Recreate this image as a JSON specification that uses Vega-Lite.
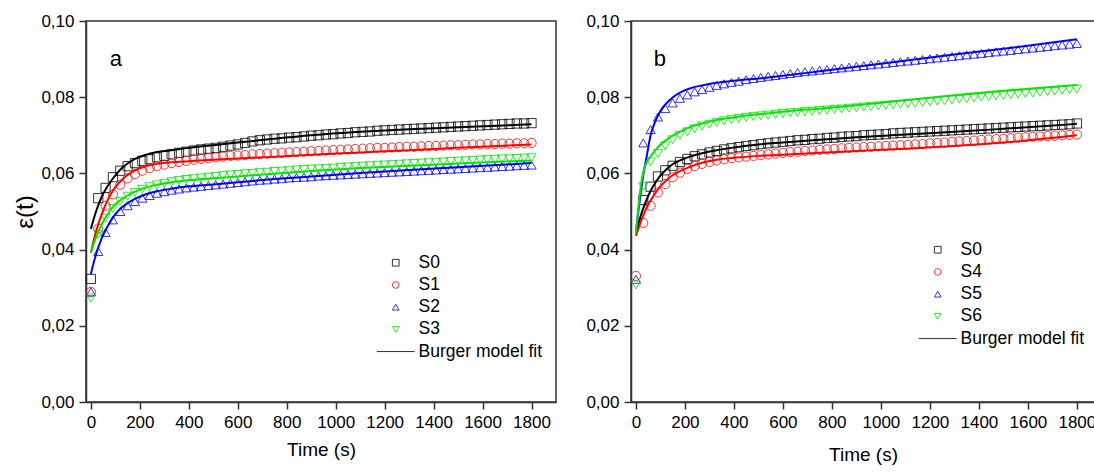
{
"$schema": "https://vega.github.io/schema/vega-lite/v6.json",
"background": "white",
"padding": {"left": 13, "top": 11, "right": 0, "bottom": 0},
"spacing": 28,
"config": {
  "font": "Liberation Sans",
  "view": {"stroke": "#333", "strokeWidth": 1.5},
  "axis": {"grid": false, "domainColor": "#333", "domainWidth": 1.5, "tickColor": "#333", "tickWidth": 1.5, "labelFontSize": 17, "labelColor": "#000", "labelFont": "Liberation Sans", "titleFont": "Liberation Sans", "titleFontSize": 19, "titleFontWeight": "normal", "titleColor": "#000", "labelOverlap": false, "labelFlush": false, "labelBound": false, "labelPadding": 5}
},
"datasets": {
"a_pts": [
{"s":"S0","t":0,"e":0.0323},{"s":"S0","t":30,"e":0.0535},{"s":"S0","t":60,"e":0.0562},{"s":"S0","t":90,"e":0.0590},{"s":"S0","t":120,"e":0.0607},{"s":"S0","t":150,"e":0.0619},{"s":"S0","t":180,"e":0.0627},{"s":"S0","t":210,"e":0.0633},{"s":"S0","t":240,"e":0.0637},{"s":"S0","t":270,"e":0.0642},{"s":"S0","t":300,"e":0.0646},{"s":"S0","t":330,"e":0.0650},{"s":"S0","t":360,"e":0.0654},{"s":"S0","t":390,"e":0.0657},{"s":"S0","t":420,"e":0.0660},{"s":"S0","t":450,"e":0.0663},{"s":"S0","t":480,"e":0.0665},{"s":"S0","t":510,"e":0.0667},{"s":"S0","t":540,"e":0.0670},{"s":"S0","t":570,"e":0.0673},{"s":"S0","t":600,"e":0.0676},{"s":"S0","t":630,"e":0.0680},{"s":"S0","t":660,"e":0.0684},{"s":"S0","t":690,"e":0.0687},{"s":"S0","t":720,"e":0.0689},{"s":"S0","t":750,"e":0.0691},{"s":"S0","t":780,"e":0.0692},{"s":"S0","t":810,"e":0.0694},{"s":"S0","t":840,"e":0.0695},{"s":"S0","t":870,"e":0.0697},{"s":"S0","t":900,"e":0.0699},{"s":"S0","t":930,"e":0.0700},{"s":"S0","t":960,"e":0.0702},{"s":"S0","t":990,"e":0.0703},{"s":"S0","t":1020,"e":0.0705},{"s":"S0","t":1050,"e":0.0706},{"s":"S0","t":1080,"e":0.0708},{"s":"S0","t":1110,"e":0.0709},{"s":"S0","t":1140,"e":0.0710},{"s":"S0","t":1170,"e":0.0712},{"s":"S0","t":1200,"e":0.0713},{"s":"S0","t":1230,"e":0.0714},{"s":"S0","t":1260,"e":0.0715},{"s":"S0","t":1290,"e":0.0716},{"s":"S0","t":1320,"e":0.0717},{"s":"S0","t":1350,"e":0.0718},{"s":"S0","t":1380,"e":0.0719},{"s":"S0","t":1410,"e":0.0720},{"s":"S0","t":1440,"e":0.0721},{"s":"S0","t":1470,"e":0.0722},{"s":"S0","t":1500,"e":0.0723},{"s":"S0","t":1530,"e":0.0724},{"s":"S0","t":1560,"e":0.0725},{"s":"S0","t":1590,"e":0.0726},{"s":"S0","t":1620,"e":0.0727},{"s":"S0","t":1650,"e":0.0728},{"s":"S0","t":1680,"e":0.0729},{"s":"S0","t":1710,"e":0.0730},{"s":"S0","t":1740,"e":0.0731},{"s":"S0","t":1770,"e":0.0731},{"s":"S0","t":1800,"e":0.0732},
{"s":"S1","t":0,"e":0.0289},{"s":"S1","t":30,"e":0.0455},{"s":"S1","t":60,"e":0.0515},{"s":"S1","t":90,"e":0.0545},{"s":"S1","t":120,"e":0.0570},{"s":"S1","t":150,"e":0.0587},{"s":"S1","t":180,"e":0.0598},{"s":"S1","t":210,"e":0.0607},{"s":"S1","t":240,"e":0.0614},{"s":"S1","t":270,"e":0.0619},{"s":"S1","t":300,"e":0.0623},{"s":"S1","t":330,"e":0.0627},{"s":"S1","t":360,"e":0.0630},{"s":"S1","t":390,"e":0.0633},{"s":"S1","t":420,"e":0.0636},{"s":"S1","t":450,"e":0.0638},{"s":"S1","t":480,"e":0.0640},{"s":"S1","t":510,"e":0.0642},{"s":"S1","t":540,"e":0.0644},{"s":"S1","t":570,"e":0.0646},{"s":"S1","t":600,"e":0.0647},{"s":"S1","t":630,"e":0.0648},{"s":"S1","t":660,"e":0.0650},{"s":"S1","t":690,"e":0.0651},{"s":"S1","t":720,"e":0.0652},{"s":"S1","t":750,"e":0.0653},{"s":"S1","t":780,"e":0.0654},{"s":"S1","t":810,"e":0.0655},{"s":"S1","t":840,"e":0.0656},{"s":"S1","t":870,"e":0.0657},{"s":"S1","t":900,"e":0.0658},{"s":"S1","t":930,"e":0.0659},{"s":"S1","t":960,"e":0.0660},{"s":"S1","t":990,"e":0.0661},{"s":"S1","t":1020,"e":0.0662},{"s":"S1","t":1050,"e":0.0663},{"s":"S1","t":1080,"e":0.0664},{"s":"S1","t":1110,"e":0.0665},{"s":"S1","t":1140,"e":0.0666},{"s":"S1","t":1170,"e":0.0667},{"s":"S1","t":1200,"e":0.0667},{"s":"S1","t":1230,"e":0.0668},{"s":"S1","t":1260,"e":0.0669},{"s":"S1","t":1290,"e":0.0670},{"s":"S1","t":1320,"e":0.0670},{"s":"S1","t":1350,"e":0.0671},{"s":"S1","t":1380,"e":0.0672},{"s":"S1","t":1410,"e":0.0672},{"s":"S1","t":1440,"e":0.0673},{"s":"S1","t":1470,"e":0.0674},{"s":"S1","t":1500,"e":0.0674},{"s":"S1","t":1530,"e":0.0675},{"s":"S1","t":1560,"e":0.0676},{"s":"S1","t":1590,"e":0.0676},{"s":"S1","t":1620,"e":0.0677},{"s":"S1","t":1650,"e":0.0677},{"s":"S1","t":1680,"e":0.0678},{"s":"S1","t":1710,"e":0.0678},{"s":"S1","t":1740,"e":0.0679},{"s":"S1","t":1770,"e":0.0679},{"s":"S1","t":1800,"e":0.0680},
{"s":"S2","t":0,"e":0.0289},{"s":"S2","t":30,"e":0.0395},{"s":"S2","t":60,"e":0.0445},{"s":"S2","t":90,"e":0.0478},{"s":"S2","t":120,"e":0.0500},{"s":"S2","t":150,"e":0.0515},{"s":"S2","t":180,"e":0.0526},{"s":"S2","t":210,"e":0.0535},{"s":"S2","t":240,"e":0.0542},{"s":"S2","t":270,"e":0.0548},{"s":"S2","t":300,"e":0.0552},{"s":"S2","t":330,"e":0.0556},{"s":"S2","t":360,"e":0.0559},{"s":"S2","t":390,"e":0.0562},{"s":"S2","t":420,"e":0.0564},{"s":"S2","t":450,"e":0.0566},{"s":"S2","t":480,"e":0.0568},{"s":"S2","t":510,"e":0.0570},{"s":"S2","t":540,"e":0.0572},{"s":"S2","t":570,"e":0.0574},{"s":"S2","t":600,"e":0.0576},{"s":"S2","t":630,"e":0.0578},{"s":"S2","t":660,"e":0.0580},{"s":"S2","t":690,"e":0.0582},{"s":"S2","t":720,"e":0.0583},{"s":"S2","t":750,"e":0.0585},{"s":"S2","t":780,"e":0.0586},{"s":"S2","t":810,"e":0.0588},{"s":"S2","t":840,"e":0.0589},{"s":"S2","t":870,"e":0.0590},{"s":"S2","t":900,"e":0.0591},{"s":"S2","t":930,"e":0.0593},{"s":"S2","t":960,"e":0.0594},{"s":"S2","t":990,"e":0.0595},{"s":"S2","t":1020,"e":0.0596},{"s":"S2","t":1050,"e":0.0597},{"s":"S2","t":1080,"e":0.0598},{"s":"S2","t":1110,"e":0.0599},{"s":"S2","t":1140,"e":0.0600},{"s":"S2","t":1170,"e":0.0601},{"s":"S2","t":1200,"e":0.0602},{"s":"S2","t":1230,"e":0.0603},{"s":"S2","t":1260,"e":0.0604},{"s":"S2","t":1290,"e":0.0605},{"s":"S2","t":1320,"e":0.0606},{"s":"S2","t":1350,"e":0.0607},{"s":"S2","t":1380,"e":0.0608},{"s":"S2","t":1410,"e":0.0609},{"s":"S2","t":1440,"e":0.0610},{"s":"S2","t":1470,"e":0.0611},{"s":"S2","t":1500,"e":0.0612},{"s":"S2","t":1530,"e":0.0613},{"s":"S2","t":1560,"e":0.0614},{"s":"S2","t":1590,"e":0.0615},{"s":"S2","t":1620,"e":0.0616},{"s":"S2","t":1650,"e":0.0617},{"s":"S2","t":1680,"e":0.0618},{"s":"S2","t":1710,"e":0.0619},{"s":"S2","t":1740,"e":0.0620},{"s":"S2","t":1770,"e":0.0621},{"s":"S2","t":1800,"e":0.0622},
{"s":"S3","t":0,"e":0.0273},{"s":"S3","t":30,"e":0.0440},{"s":"S3","t":60,"e":0.0482},{"s":"S3","t":90,"e":0.0508},{"s":"S3","t":120,"e":0.0526},{"s":"S3","t":150,"e":0.0540},{"s":"S3","t":180,"e":0.0550},{"s":"S3","t":210,"e":0.0558},{"s":"S3","t":240,"e":0.0565},{"s":"S3","t":270,"e":0.0570},{"s":"S3","t":300,"e":0.0574},{"s":"S3","t":330,"e":0.0578},{"s":"S3","t":360,"e":0.0581},{"s":"S3","t":390,"e":0.0584},{"s":"S3","t":420,"e":0.0586},{"s":"S3","t":450,"e":0.0588},{"s":"S3","t":480,"e":0.0590},{"s":"S3","t":510,"e":0.0592},{"s":"S3","t":540,"e":0.0594},{"s":"S3","t":570,"e":0.0596},{"s":"S3","t":600,"e":0.0597},{"s":"S3","t":630,"e":0.0599},{"s":"S3","t":660,"e":0.0600},{"s":"S3","t":690,"e":0.0602},{"s":"S3","t":720,"e":0.0603},{"s":"S3","t":750,"e":0.0605},{"s":"S3","t":780,"e":0.0606},{"s":"S3","t":810,"e":0.0607},{"s":"S3","t":840,"e":0.0609},{"s":"S3","t":870,"e":0.0610},{"s":"S3","t":900,"e":0.0611},{"s":"S3","t":930,"e":0.0612},{"s":"S3","t":960,"e":0.0613},{"s":"S3","t":990,"e":0.0614},{"s":"S3","t":1020,"e":0.0616},{"s":"S3","t":1050,"e":0.0617},{"s":"S3","t":1080,"e":0.0618},{"s":"S3","t":1110,"e":0.0619},{"s":"S3","t":1140,"e":0.0620},{"s":"S3","t":1170,"e":0.0621},{"s":"S3","t":1200,"e":0.0622},{"s":"S3","t":1230,"e":0.0623},{"s":"S3","t":1260,"e":0.0624},{"s":"S3","t":1290,"e":0.0625},{"s":"S3","t":1320,"e":0.0626},{"s":"S3","t":1350,"e":0.0627},{"s":"S3","t":1380,"e":0.0628},{"s":"S3","t":1410,"e":0.0629},{"s":"S3","t":1440,"e":0.0630},{"s":"S3","t":1470,"e":0.0631},{"s":"S3","t":1500,"e":0.0632},{"s":"S3","t":1530,"e":0.0633},{"s":"S3","t":1560,"e":0.0634},{"s":"S3","t":1590,"e":0.0635},{"s":"S3","t":1620,"e":0.0636},{"s":"S3","t":1650,"e":0.0637},{"s":"S3","t":1680,"e":0.0638},{"s":"S3","t":1710,"e":0.0638},{"s":"S3","t":1740,"e":0.0639},{"s":"S3","t":1770,"e":0.0640},{"s":"S3","t":1800,"e":0.0641}
],
"a_fit": [
{"s":"S0","t":0,"e":0.0454},{"s":"S0","t":10,"e":0.0477},{"s":"S0","t":20,"e":0.0498},{"s":"S0","t":30,"e":0.0516},{"s":"S0","t":45,"e":0.0540},{"s":"S0","t":60,"e":0.0558},{"s":"S0","t":80,"e":0.0578},{"s":"S0","t":100,"e":0.0595},{"s":"S0","t":125,"e":0.0613},{"s":"S0","t":150,"e":0.0626},{"s":"S0","t":180,"e":0.0638},{"s":"S0","t":220,"e":0.0648},{"s":"S0","t":270,"e":0.0656},{"s":"S0","t":330,"e":0.0661},{"s":"S0","t":400,"e":0.0667},{"s":"S0","t":500,"e":0.0674},{"s":"S0","t":600,"e":0.0681},{"s":"S0","t":750,"e":0.0691},{"s":"S0","t":900,"e":0.0700},{"s":"S0","t":1100,"e":0.0709},{"s":"S0","t":1300,"e":0.0716},{"s":"S0","t":1500,"e":0.0721},{"s":"S0","t":1800,"e":0.0729},
{"s":"S1","t":0,"e":0.0391},{"s":"S1","t":10,"e":0.0420},{"s":"S1","t":20,"e":0.0445},{"s":"S1","t":30,"e":0.0466},{"s":"S1","t":45,"e":0.0494},{"s":"S1","t":60,"e":0.0518},{"s":"S1","t":80,"e":0.0544},{"s":"S1","t":100,"e":0.0564},{"s":"S1","t":125,"e":0.0582},{"s":"S1","t":150,"e":0.0596},{"s":"S1","t":180,"e":0.0608},{"s":"S1","t":220,"e":0.0618},{"s":"S1","t":270,"e":0.0625},{"s":"S1","t":330,"e":0.0629},{"s":"S1","t":400,"e":0.0632},{"s":"S1","t":500,"e":0.0636},{"s":"S1","t":600,"e":0.0639},{"s":"S1","t":750,"e":0.0644},{"s":"S1","t":900,"e":0.0649},{"s":"S1","t":1100,"e":0.0655},{"s":"S1","t":1300,"e":0.0661},{"s":"S1","t":1500,"e":0.0667},{"s":"S1","t":1800,"e":0.0676},
{"s":"S2","t":0,"e":0.0336},{"s":"S2","t":10,"e":0.0362},{"s":"S2","t":20,"e":0.0385},{"s":"S2","t":30,"e":0.0405},{"s":"S2","t":45,"e":0.0431},{"s":"S2","t":60,"e":0.0451},{"s":"S2","t":80,"e":0.0474},{"s":"S2","t":100,"e":0.0493},{"s":"S2","t":125,"e":0.0510},{"s":"S2","t":150,"e":0.0522},{"s":"S2","t":180,"e":0.0533},{"s":"S2","t":220,"e":0.0544},{"s":"S2","t":270,"e":0.0553},{"s":"S2","t":330,"e":0.0560},{"s":"S2","t":400,"e":0.0566},{"s":"S2","t":500,"e":0.0571},{"s":"S2","t":600,"e":0.0577},{"s":"S2","t":750,"e":0.0585},{"s":"S2","t":900,"e":0.0592},{"s":"S2","t":1100,"e":0.0601},{"s":"S2","t":1300,"e":0.0609},{"s":"S2","t":1500,"e":0.0616},{"s":"S2","t":1800,"e":0.0627},
{"s":"S3","t":0,"e":0.0391},{"s":"S3","t":10,"e":0.0412},{"s":"S3","t":20,"e":0.0430},{"s":"S3","t":30,"e":0.0446},{"s":"S3","t":45,"e":0.0467},{"s":"S3","t":60,"e":0.0484},{"s":"S3","t":80,"e":0.0504},{"s":"S3","t":100,"e":0.0519},{"s":"S3","t":125,"e":0.0532},{"s":"S3","t":150,"e":0.0542},{"s":"S3","t":180,"e":0.0552},{"s":"S3","t":220,"e":0.0562},{"s":"S3","t":270,"e":0.0570},{"s":"S3","t":330,"e":0.0577},{"s":"S3","t":400,"e":0.0582},{"s":"S3","t":500,"e":0.0587},{"s":"S3","t":600,"e":0.0592},{"s":"S3","t":750,"e":0.0599},{"s":"S3","t":900,"e":0.0606},{"s":"S3","t":1100,"e":0.0614},{"s":"S3","t":1300,"e":0.0620},{"s":"S3","t":1500,"e":0.0626},{"s":"S3","t":1800,"e":0.0634}
],
"b_pts": [
{"s":"S0","t":30,"e":0.0530},{"s":"S0","t":60,"e":0.0565},{"s":"S0","t":90,"e":0.0592},{"s":"S0","t":120,"e":0.0608},{"s":"S0","t":150,"e":0.0620},{"s":"S0","t":180,"e":0.0630},{"s":"S0","t":210,"e":0.0638},{"s":"S0","t":240,"e":0.0645},{"s":"S0","t":270,"e":0.0650},{"s":"S0","t":300,"e":0.0655},{"s":"S0","t":330,"e":0.0659},{"s":"S0","t":360,"e":0.0663},{"s":"S0","t":390,"e":0.0666},{"s":"S0","t":420,"e":0.0669},{"s":"S0","t":450,"e":0.0672},{"s":"S0","t":480,"e":0.0674},{"s":"S0","t":510,"e":0.0677},{"s":"S0","t":540,"e":0.0679},{"s":"S0","t":570,"e":0.0681},{"s":"S0","t":600,"e":0.0683},{"s":"S0","t":630,"e":0.0685},{"s":"S0","t":660,"e":0.0687},{"s":"S0","t":690,"e":0.0688},{"s":"S0","t":720,"e":0.0690},{"s":"S0","t":750,"e":0.0691},{"s":"S0","t":780,"e":0.0693},{"s":"S0","t":810,"e":0.0694},{"s":"S0","t":840,"e":0.0696},{"s":"S0","t":870,"e":0.0697},{"s":"S0","t":900,"e":0.0698},{"s":"S0","t":930,"e":0.0700},{"s":"S0","t":960,"e":0.0701},{"s":"S0","t":990,"e":0.0702},{"s":"S0","t":1020,"e":0.0703},{"s":"S0","t":1050,"e":0.0705},{"s":"S0","t":1080,"e":0.0706},{"s":"S0","t":1110,"e":0.0707},{"s":"S0","t":1140,"e":0.0708},{"s":"S0","t":1170,"e":0.0709},{"s":"S0","t":1200,"e":0.0710},{"s":"S0","t":1230,"e":0.0711},{"s":"S0","t":1260,"e":0.0712},{"s":"S0","t":1290,"e":0.0713},{"s":"S0","t":1320,"e":0.0714},{"s":"S0","t":1350,"e":0.0715},{"s":"S0","t":1380,"e":0.0716},{"s":"S0","t":1410,"e":0.0717},{"s":"S0","t":1440,"e":0.0718},{"s":"S0","t":1470,"e":0.0719},{"s":"S0","t":1500,"e":0.0720},{"s":"S0","t":1530,"e":0.0721},{"s":"S0","t":1560,"e":0.0722},{"s":"S0","t":1590,"e":0.0723},{"s":"S0","t":1620,"e":0.0724},{"s":"S0","t":1650,"e":0.0725},{"s":"S0","t":1680,"e":0.0726},{"s":"S0","t":1710,"e":0.0727},{"s":"S0","t":1740,"e":0.0728},{"s":"S0","t":1770,"e":0.0729},{"s":"S0","t":1800,"e":0.0731},
{"s":"S4","t":0,"e":0.0331},{"s":"S4","t":30,"e":0.0470},{"s":"S4","t":60,"e":0.0515},{"s":"S4","t":90,"e":0.0550},{"s":"S4","t":120,"e":0.0572},{"s":"S4","t":150,"e":0.0590},{"s":"S4","t":180,"e":0.0602},{"s":"S4","t":210,"e":0.0612},{"s":"S4","t":240,"e":0.0619},{"s":"S4","t":270,"e":0.0625},{"s":"S4","t":300,"e":0.0630},{"s":"S4","t":330,"e":0.0634},{"s":"S4","t":360,"e":0.0637},{"s":"S4","t":390,"e":0.0640},{"s":"S4","t":420,"e":0.0642},{"s":"S4","t":450,"e":0.0644},{"s":"S4","t":480,"e":0.0646},{"s":"S4","t":510,"e":0.0648},{"s":"S4","t":540,"e":0.0650},{"s":"S4","t":570,"e":0.0652},{"s":"S4","t":600,"e":0.0654},{"s":"S4","t":630,"e":0.0656},{"s":"S4","t":660,"e":0.0657},{"s":"S4","t":690,"e":0.0659},{"s":"S4","t":720,"e":0.0660},{"s":"S4","t":750,"e":0.0662},{"s":"S4","t":780,"e":0.0663},{"s":"S4","t":810,"e":0.0664},{"s":"S4","t":840,"e":0.0666},{"s":"S4","t":870,"e":0.0667},{"s":"S4","t":900,"e":0.0668},{"s":"S4","t":930,"e":0.0669},{"s":"S4","t":960,"e":0.0670},{"s":"S4","t":990,"e":0.0671},{"s":"S4","t":1020,"e":0.0672},{"s":"S4","t":1050,"e":0.0673},{"s":"S4","t":1080,"e":0.0674},{"s":"S4","t":1110,"e":0.0675},{"s":"S4","t":1140,"e":0.0676},{"s":"S4","t":1170,"e":0.0677},{"s":"S4","t":1200,"e":0.0679},{"s":"S4","t":1230,"e":0.0680},{"s":"S4","t":1260,"e":0.0681},{"s":"S4","t":1290,"e":0.0683},{"s":"S4","t":1320,"e":0.0684},{"s":"S4","t":1350,"e":0.0685},{"s":"S4","t":1380,"e":0.0686},{"s":"S4","t":1410,"e":0.0688},{"s":"S4","t":1440,"e":0.0689},{"s":"S4","t":1470,"e":0.0690},{"s":"S4","t":1500,"e":0.0691},{"s":"S4","t":1530,"e":0.0692},{"s":"S4","t":1560,"e":0.0694},{"s":"S4","t":1590,"e":0.0695},{"s":"S4","t":1620,"e":0.0696},{"s":"S4","t":1650,"e":0.0697},{"s":"S4","t":1680,"e":0.0698},{"s":"S4","t":1710,"e":0.0699},{"s":"S4","t":1740,"e":0.0700},{"s":"S4","t":1770,"e":0.0701},{"s":"S4","t":1800,"e":0.0702},
{"s":"S5","t":0,"e":0.0322},{"s":"S5","t":30,"e":0.0680},{"s":"S5","t":60,"e":0.0715},{"s":"S5","t":90,"e":0.0748},{"s":"S5","t":120,"e":0.0770},{"s":"S5","t":150,"e":0.0785},{"s":"S5","t":180,"e":0.0797},{"s":"S5","t":210,"e":0.0806},{"s":"S5","t":240,"e":0.0814},{"s":"S5","t":270,"e":0.0820},{"s":"S5","t":300,"e":0.0826},{"s":"S5","t":330,"e":0.0831},{"s":"S5","t":360,"e":0.0835},{"s":"S5","t":390,"e":0.0839},{"s":"S5","t":420,"e":0.0842},{"s":"S5","t":450,"e":0.0846},{"s":"S5","t":480,"e":0.0849},{"s":"S5","t":510,"e":0.0852},{"s":"S5","t":540,"e":0.0855},{"s":"S5","t":570,"e":0.0857},{"s":"S5","t":600,"e":0.0860},{"s":"S5","t":630,"e":0.0862},{"s":"S5","t":660,"e":0.0865},{"s":"S5","t":690,"e":0.0867},{"s":"S5","t":720,"e":0.0869},{"s":"S5","t":750,"e":0.0871},{"s":"S5","t":780,"e":0.0873},{"s":"S5","t":810,"e":0.0875},{"s":"S5","t":840,"e":0.0877},{"s":"S5","t":870,"e":0.0879},{"s":"S5","t":900,"e":0.0881},{"s":"S5","t":930,"e":0.0883},{"s":"S5","t":960,"e":0.0885},{"s":"S5","t":990,"e":0.0887},{"s":"S5","t":1020,"e":0.0889},{"s":"S5","t":1050,"e":0.0891},{"s":"S5","t":1080,"e":0.0893},{"s":"S5","t":1110,"e":0.0895},{"s":"S5","t":1140,"e":0.0897},{"s":"S5","t":1170,"e":0.0899},{"s":"S5","t":1200,"e":0.0901},{"s":"S5","t":1230,"e":0.0903},{"s":"S5","t":1260,"e":0.0905},{"s":"S5","t":1290,"e":0.0907},{"s":"S5","t":1320,"e":0.0909},{"s":"S5","t":1350,"e":0.0911},{"s":"S5","t":1380,"e":0.0913},{"s":"S5","t":1410,"e":0.0915},{"s":"S5","t":1440,"e":0.0917},{"s":"S5","t":1470,"e":0.0919},{"s":"S5","t":1500,"e":0.0921},{"s":"S5","t":1530,"e":0.0923},{"s":"S5","t":1560,"e":0.0925},{"s":"S5","t":1590,"e":0.0927},{"s":"S5","t":1620,"e":0.0929},{"s":"S5","t":1650,"e":0.0931},{"s":"S5","t":1680,"e":0.0933},{"s":"S5","t":1710,"e":0.0935},{"s":"S5","t":1740,"e":0.0937},{"s":"S5","t":1770,"e":0.0939},{"s":"S5","t":1800,"e":0.0941},
{"s":"S6","t":0,"e":0.0307},{"s":"S6","t":30,"e":0.0565},{"s":"S6","t":60,"e":0.0630},{"s":"S6","t":90,"e":0.0652},{"s":"S6","t":120,"e":0.0672},{"s":"S6","t":150,"e":0.0688},{"s":"S6","t":180,"e":0.0700},{"s":"S6","t":210,"e":0.0709},{"s":"S6","t":240,"e":0.0717},{"s":"S6","t":270,"e":0.0724},{"s":"S6","t":300,"e":0.0729},{"s":"S6","t":330,"e":0.0734},{"s":"S6","t":360,"e":0.0738},{"s":"S6","t":390,"e":0.0741},{"s":"S6","t":420,"e":0.0744},{"s":"S6","t":450,"e":0.0747},{"s":"S6","t":480,"e":0.0749},{"s":"S6","t":510,"e":0.0751},{"s":"S6","t":540,"e":0.0753},{"s":"S6","t":570,"e":0.0755},{"s":"S6","t":600,"e":0.0757},{"s":"S6","t":630,"e":0.0759},{"s":"S6","t":660,"e":0.0760},{"s":"S6","t":690,"e":0.0762},{"s":"S6","t":720,"e":0.0763},{"s":"S6","t":750,"e":0.0765},{"s":"S6","t":780,"e":0.0766},{"s":"S6","t":810,"e":0.0768},{"s":"S6","t":840,"e":0.0769},{"s":"S6","t":870,"e":0.0771},{"s":"S6","t":900,"e":0.0772},{"s":"S6","t":930,"e":0.0774},{"s":"S6","t":960,"e":0.0775},{"s":"S6","t":990,"e":0.0777},{"s":"S6","t":1020,"e":0.0778},{"s":"S6","t":1050,"e":0.0780},{"s":"S6","t":1080,"e":0.0781},{"s":"S6","t":1110,"e":0.0783},{"s":"S6","t":1140,"e":0.0784},{"s":"S6","t":1170,"e":0.0786},{"s":"S6","t":1200,"e":0.0788},{"s":"S6","t":1230,"e":0.0790},{"s":"S6","t":1260,"e":0.0791},{"s":"S6","t":1290,"e":0.0793},{"s":"S6","t":1320,"e":0.0795},{"s":"S6","t":1350,"e":0.0796},{"s":"S6","t":1380,"e":0.0798},{"s":"S6","t":1410,"e":0.0800},{"s":"S6","t":1440,"e":0.0801},{"s":"S6","t":1470,"e":0.0803},{"s":"S6","t":1500,"e":0.0805},{"s":"S6","t":1530,"e":0.0806},{"s":"S6","t":1560,"e":0.0808},{"s":"S6","t":1590,"e":0.0810},{"s":"S6","t":1620,"e":0.0811},{"s":"S6","t":1650,"e":0.0813},{"s":"S6","t":1680,"e":0.0815},{"s":"S6","t":1710,"e":0.0816},{"s":"S6","t":1740,"e":0.0818},{"s":"S6","t":1770,"e":0.0820},{"s":"S6","t":1800,"e":0.0821}
],
"b_fit": [
{"s":"S0","t":0,"e":0.0444},{"s":"S0","t":10,"e":0.0468},{"s":"S0","t":20,"e":0.0489},{"s":"S0","t":30,"e":0.0508},{"s":"S0","t":45,"e":0.0533},{"s":"S0","t":60,"e":0.0554},{"s":"S0","t":80,"e":0.0576},{"s":"S0","t":100,"e":0.0594},{"s":"S0","t":125,"e":0.0611},{"s":"S0","t":150,"e":0.0624},{"s":"S0","t":180,"e":0.0634},{"s":"S0","t":220,"e":0.0644},{"s":"S0","t":270,"e":0.0653},{"s":"S0","t":330,"e":0.0661},{"s":"S0","t":400,"e":0.0668},{"s":"S0","t":500,"e":0.0676},{"s":"S0","t":600,"e":0.0681},{"s":"S0","t":750,"e":0.0688},{"s":"S0","t":900,"e":0.0695},{"s":"S0","t":1100,"e":0.0702},{"s":"S0","t":1300,"e":0.0709},{"s":"S0","t":1500,"e":0.0717},{"s":"S0","t":1800,"e":0.0730},
{"s":"S4","t":0,"e":0.0436},{"s":"S4","t":10,"e":0.0455},{"s":"S4","t":20,"e":0.0473},{"s":"S4","t":30,"e":0.0489},{"s":"S4","t":45,"e":0.0511},{"s":"S4","t":60,"e":0.0529},{"s":"S4","t":80,"e":0.0549},{"s":"S4","t":100,"e":0.0566},{"s":"S4","t":125,"e":0.0582},{"s":"S4","t":150,"e":0.0595},{"s":"S4","t":180,"e":0.0606},{"s":"S4","t":220,"e":0.0617},{"s":"S4","t":270,"e":0.0628},{"s":"S4","t":330,"e":0.0636},{"s":"S4","t":400,"e":0.0641},{"s":"S4","t":500,"e":0.0646},{"s":"S4","t":600,"e":0.0649},{"s":"S4","t":750,"e":0.0654},{"s":"S4","t":900,"e":0.0659},{"s":"S4","t":1100,"e":0.0665},{"s":"S4","t":1300,"e":0.0672},{"s":"S4","t":1500,"e":0.0681},{"s":"S4","t":1800,"e":0.0700},
{"s":"S5","t":0,"e":0.0444},{"s":"S5","t":10,"e":0.0500},{"s":"S5","t":20,"e":0.0550},{"s":"S5","t":30,"e":0.0595},{"s":"S5","t":45,"e":0.0648},{"s":"S5","t":60,"e":0.0700},{"s":"S5","t":80,"e":0.0738},{"s":"S5","t":100,"e":0.0764},{"s":"S5","t":125,"e":0.0784},{"s":"S5","t":150,"e":0.0799},{"s":"S5","t":180,"e":0.0812},{"s":"S5","t":220,"e":0.0823},{"s":"S5","t":270,"e":0.0831},{"s":"S5","t":330,"e":0.0838},{"s":"S5","t":400,"e":0.0843},{"s":"S5","t":500,"e":0.0849},{"s":"S5","t":600,"e":0.0856},{"s":"S5","t":750,"e":0.0868},{"s":"S5","t":900,"e":0.0880},{"s":"S5","t":1100,"e":0.0896},{"s":"S5","t":1300,"e":0.0912},{"s":"S5","t":1500,"e":0.0927},{"s":"S5","t":1800,"e":0.0952},
{"s":"S6","t":0,"e":0.0444},{"s":"S6","t":10,"e":0.0510},{"s":"S6","t":20,"e":0.0566},{"s":"S6","t":30,"e":0.0603},{"s":"S6","t":45,"e":0.0630},{"s":"S6","t":60,"e":0.0645},{"s":"S6","t":80,"e":0.0661},{"s":"S6","t":100,"e":0.0675},{"s":"S6","t":125,"e":0.0688},{"s":"S6","t":150,"e":0.0699},{"s":"S6","t":180,"e":0.0709},{"s":"S6","t":220,"e":0.0721},{"s":"S6","t":270,"e":0.0731},{"s":"S6","t":330,"e":0.0740},{"s":"S6","t":400,"e":0.0747},{"s":"S6","t":500,"e":0.0755},{"s":"S6","t":600,"e":0.0762},{"s":"S6","t":750,"e":0.0770},{"s":"S6","t":900,"e":0.0779},{"s":"S6","t":1100,"e":0.0792},{"s":"S6","t":1300,"e":0.0805},{"s":"S6","t":1500,"e":0.0817},{"s":"S6","t":1800,"e":0.0832}
]
},
"hconcat": [
{
  "width": 470, "height": 381,
  "layer": [
    {
      "data": {"name": "a_pts"},
      "mark": {"type": "point", "filled": false, "size": 85, "strokeWidth": 1, "opacity": 0.8},
      "encoding": {
        "x": {"field": "t", "type": "quantitative", "scale": {"domain": [-20, 1900], "nice": false, "zero": false},
              "axis": {"title": "Time (s)", "titlePadding": 10, "values": [0,100,200,300,400,500,600,700,800,900,1000,1100,1200,1300,1400,1500,1600,1700,1800], "labelExpr": "datum.value % 200 === 0 ? '' + datum.value : ''", "tickSize": {"condition": {"test": "datum.value % 200 === 0", "value": 7}, "value": 4}}},
        "y": {"field": "e", "type": "quantitative", "scale": {"domain": [0, 0.1], "nice": false, "zero": false},
              "axis": {"title": "ε(t)", "titleFontSize": 24, "titlePadding": 3, "values": [0,0.01,0.02,0.03,0.04,0.05,0.06,0.07,0.08,0.09,0.1], "labelExpr": "round(datum.value*100) % 2 === 0 ? replace(format(datum.value, '.2f'), '.', ',') : ''", "tickSize": {"condition": {"test": "round(datum.value*100) % 2 === 0", "value": 7}, "value": 4}}},
        "color": {"field": "s", "type": "nominal",
                  "scale": {"domain": ["S0","S1","S2","S3","Burger model fit"], "range": ["#000000","#ff0000","#0000ff","#00e600","#000000"]},
                  "legend": {"title": null, "orient": "none", "legendX": 301, "legendY": 233, "padding": 0, "labelFontSize": 17.5, "labelFont": "Liberation Sans", "labelColor": "#000", "symbolSize": 45, "labelOffset": 14, "rowPadding": 3.2, "symbolFillColor": "transparent", "symbolStrokeWidth": 1, "encode": {"symbols": {"update": {"strokeWidth": {"signal": "datum.value === 'Burger model fit' ? 2 : 1"}}}}}},
        "shape": {"field": "s", "type": "nominal",
                  "scale": {"domain": ["S0","S1","S2","S3","Burger model fit"], "range": ["square","circle","triangle-up","triangle-down","M-5.66,0H5.66"]},
                  "legend": {"title": null, "orient": "none", "legendX": 301, "legendY": 233, "padding": 0, "labelFontSize": 17.5, "labelFont": "Liberation Sans", "labelColor": "#000", "symbolSize": 45, "labelOffset": 14, "rowPadding": 3.2, "symbolFillColor": "transparent", "symbolStrokeWidth": 1, "encode": {"symbols": {"update": {"strokeWidth": {"signal": "datum.value === 'Burger model fit' ? 2 : 1"}}}}}}
      }
    },
    {
      "data": {"name": "a_fit"},
      "mark": {"type": "line", "strokeWidth": 2, "interpolate": "monotone"},
      "encoding": {
        "x": {"field": "t", "type": "quantitative"},
        "y": {"field": "e", "type": "quantitative"},
        "color": {"field": "s", "type": "nominal"}
      }
    },
    {
      "data": {"values": [{"label": "a"}]},
      "mark": {"type": "text", "fontSize": 22, "font": "Liberation Sans", "align": "center", "baseline": "alphabetic", "color": "#000"},
      "encoding": {"x": {"datum": 102}, "y": {"datum": 0.0882}, "text": {"field": "label"}}
    }
  ]
},
{
  "width": 464, "height": 381,
  "layer": [
    {
      "data": {"name": "b_pts"},
      "mark": {"type": "point", "filled": false, "size": 85, "strokeWidth": 1, "opacity": 0.8},
      "encoding": {
        "x": {"field": "t", "type": "quantitative", "scale": {"domain": [-20, 1874], "nice": false, "zero": false},
              "axis": {"title": "Time (s)", "titlePadding": 15, "values": [0,100,200,300,400,500,600,700,800,900,1000,1100,1200,1300,1400,1500,1600,1700,1800], "labelExpr": "datum.value % 200 === 0 ? '' + datum.value : ''", "tickSize": {"condition": {"test": "datum.value % 200 === 0", "value": 7}, "value": 4}}},
        "y": {"field": "e", "type": "quantitative", "scale": {"domain": [0, 0.1], "nice": false, "zero": false},
              "axis": {"title": null, "values": [0,0.01,0.02,0.03,0.04,0.05,0.06,0.07,0.08,0.09,0.1], "labelExpr": "round(datum.value*100) % 2 === 0 ? replace(format(datum.value, '.2f'), '.', ',') : ''", "tickSize": {"condition": {"test": "round(datum.value*100) % 2 === 0", "value": 7}, "value": 4}}},
        "color": {"field": "s", "type": "nominal",
                  "scale": {"domain": ["S0","S4","S5","S6","Burger model fit"], "range": ["#000000","#ff0000","#0000ff","#00e600","#000000"]},
                  "legend": {"title": null, "orient": "none", "legendX": 298, "legendY": 220, "padding": 0, "labelFontSize": 17.5, "labelFont": "Liberation Sans", "labelColor": "#000", "symbolSize": 45, "labelOffset": 14, "rowPadding": 3.2, "symbolFillColor": "transparent", "symbolStrokeWidth": 1, "encode": {"symbols": {"update": {"strokeWidth": {"signal": "datum.value === 'Burger model fit' ? 1.2 : 1"}}}}}},
        "shape": {"field": "s", "type": "nominal",
                  "scale": {"domain": ["S0","S4","S5","S6","Burger model fit"], "range": ["square","circle","triangle-up","triangle-down","M-5.66,0H5.66"]},
                  "legend": {"title": null, "orient": "none", "legendX": 298, "legendY": 220, "padding": 0, "labelFontSize": 17.5, "labelFont": "Liberation Sans", "labelColor": "#000", "symbolSize": 45, "labelOffset": 14, "rowPadding": 3.2, "symbolFillColor": "transparent", "symbolStrokeWidth": 1, "encode": {"symbols": {"update": {"strokeWidth": {"signal": "datum.value === 'Burger model fit' ? 1.2 : 1"}}}}}}
      }
    },
    {
      "data": {"name": "b_fit"},
      "mark": {"type": "line", "strokeWidth": 2, "interpolate": "monotone"},
      "encoding": {
        "x": {"field": "t", "type": "quantitative"},
        "y": {"field": "e", "type": "quantitative"},
        "color": {"field": "s", "type": "nominal"}
      }
    },
    {
      "data": {"values": [{"label": "b"}]},
      "mark": {"type": "text", "fontSize": 22, "font": "Liberation Sans", "align": "center", "baseline": "alphabetic", "color": "#000"},
      "encoding": {"x": {"datum": 98}, "y": {"datum": 0.0882}, "text": {"field": "label"}}
    }
  ]
}
],
"resolve": {"scale": {"x": "independent", "y": "independent", "color": "independent", "shape": "independent"}, "legend": {"color": "independent", "shape": "independent"}}
}
